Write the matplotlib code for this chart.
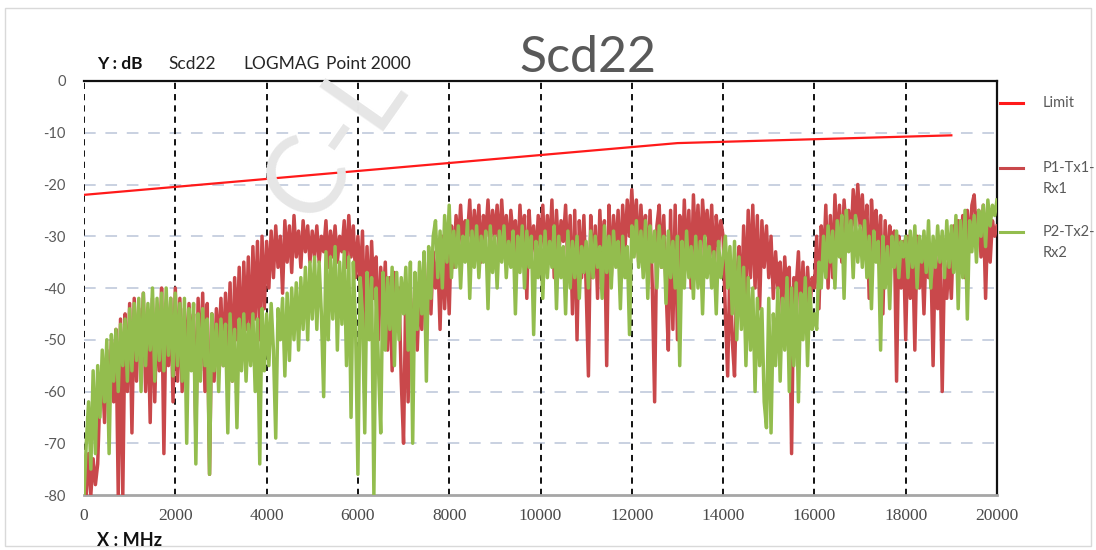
import matplotlib
matplotlib.use("Agg")
import matplotlib.pyplot as plt
from matplotlib.lines import Line2D
from matplotlib.patches import Rectangle
import numpy as np

# ---------------- data ----------------
freq_step_mhz = 50  # sample spacing of the traces below (one row = 1000 MHz)

p1_tx1_rx1 = [
    -75, -80, -72, -80, -73, -78, -74, -60, -56, -66, -52, -64, -50, -62, -48, -80, -46, -80, -45, -60,
    -43, -68, -42, -58, -44, -55, -41, -60, -45, -66, -42, -62, -44, -56, -40, -72, -43, -55, -42, -62,
    -40, -58, -42, -60, -44, -55, -43, -52, -45, -68, -42, -56, -41, -60, -43, -76, -45, -58, -44, -52,
    -42, -55, -41, -52, -39, -58, -38, -50, -36, -54, -35, -48, -34, -52, -32, -46, -31, -50, -30, -44,
    -31, -40, -29, -38, -28, -36, -30, -41, -27, -35, -28, -37, -26, -34, -29, -36, -27, -33, -28, -35,
    -29, -34, -28, -35, -30, -33, -27, -36, -29, -34, -28, -35, -30, -33, -27, -36, -26, -34, -28, -38,
    -30, -40, -29, -48, -32, -45, -31, -42, -34, -50, -36, -44, -35, -52, -38, -56, -37, -48, -40, -58,
    -70, -40, -62, -42, -55, -38, -52, -40, -48, -36, -50, -35, -45, -33, -40, -34, -48, -30, -44, -32,
    -45, -28, -36, -26, -32, -24, -33, -27, -30, -23, -34, -25, -31, -24, -35, -26, -30, -23, -32, -25,
    -30, -24, -33, -23, -31, -26, -34, -25, -30, -27, -36, -24, -32, -26, -42, -25, -33, -28, -35, -26,
    -32, -24, -35, -26, -33, -23, -38, -25, -34, -27, -31, -24, -36, -26, -45, -25, -50, -27, -38, -26,
    -40, -57, -26, -38, -28, -42, -25, -36, -27, -55, -24, -38, -26, -34, -25, -37, -24, -33, -23, -30,
    -21, -30, -23, -35, -24, -32, -26, -38, -25, -40, -62, -28, -24, -36, -26, -40, -52, -25, -48, -24,
    -50, -26, -38, -23, -35, -25, -40, -22, -33, -24, -36, -23, -30, -25, -34, -24, -38, -26, -32, -27,
    -30, -45, -57, -35, -50, -57, -38, -32, -44, -28, -42, -25, -38, -24, -40, -26, -44, -27, -36, -28,
    -38, -30, -42, -33, -40, -35, -45, -34, -42, -36, -72, -38, -40, -33, -46, -35, -48, -36, -44, -38,
    -40, -30, -44, -28, -36, -24, -40, -26, -38, -22, -33, -24, -35, -23, -30, -25, -32, -21, -28, -20,
    -28, -22, -32, -24, -42, -23, -30, -25, -35, -26, -45, -27, -38, -28, -33, -29, -58, -30, -40, -31,
    -50, -30, -42, -32, -52, -30, -40, -33, -45, -31, -38, -34, -55, -32, -44, -33, -60, -35, -42, -34,
    -42, -28, -36, -27, -34, -26, -38, -25, -33, -24, -22, -30, -25, -34, -24, -42, -26, -35, -27, -30,
    -28,
]

p2_tx2_rx2 = [
    -80, -70, -62, -75, -56, -72, -55, -65, -52, -62, -50, -72, -49, -58, -48, -60, -47, -55, -46, -58,
    -44, -56, -43, -54, -42, -60, -41, -55, -43, -52, -40, -58, -42, -54, -41, -56, -40, -53, -42, -57,
    -41, -55, -43, -58, -42, -70, -44, -56, -43, -74, -45, -58, -44, -55, -46, -76, -45, -56, -47, -60,
    -46, -55, -47, -68, -45, -58, -48, -67, -46, -56, -45, -58, -47, -55, -45, -60, -46, -74, -44, -56,
    -45, -55, -43, -52, -69, -44, -50, -42, -57, -41, -54, -40, -50, -39, -52, -38, -48, -36, -50, -35,
    -46, -34, -48, -35, -45, -61, -33, -50, -34, -46, -32, -52, -35, -47, -33, -55, -34, -65, -35, -48,
    -76, -38, -45, -68, -37, -50, -38, -80, -40, -55, -68, -37, -52, -38, -48, -36, -55, -37, -50, -38,
    -45, -36, -52, -35, -70, -37, -48, -35, -45, -33, -58, -32, -42, -30, -27, -38, -29, -40, -26, -35,
    -24, -38, -29, -36, -28, -40, -30, -35, -27, -42, -29, -36, -28, -38, -30, -35, -29, -44, -28, -37,
    -30, -40, -29, -35, -28, -38, -31, -36, -29, -45, -30, -37, -28, -40, -29, -36, -30, -49, -31, -38,
    -30, -42, -29, -38, -31, -36, -28, -44, -30, -38, -32, -45, -29, -40, -31, -38, -30, -42, -32, -37,
    -31, -40, -29, -38, -30, -36, -32, -42, -28, -37, -30, -40, -29, -36, -31, -44, -30, -38, -32, -49,
    -28, -34, -27, -36, -29, -38, -27, -42, -28, -35, -29, -40, -28, -36, -30, -43, -29, -38, -31, -40,
    -30, -55, -31, -40, -29, -38, -32, -42, -30, -40, -31, -45, -30, -38, -32, -40, -33, -45, -31, -38,
    -34, -30, -40, -32, -45, -31, -50, -34, -48, -36, -55, -38, -52, -40, -60, -42, -55, -44, -62, -67,
    -42, -68, -45, -55, -40, -58, -42, -52, -38, -60, -40, -55, -39, -62, -41, -50, -38, -55, -40, -48,
    -45, -48, -35, -40, -30, -38, -28, -35, -29, -40, -27, -34, -26, -42, -25, -33, -27, -38, -26, -35,
    -28, -36, -27, -38, -30, -44, -29, -35, -31, -52, -30, -40, -32, -44, -30, -36, -29, -38, -31, -34,
    -30, -38, -29, -36, -28, -40, -30, -35, -29, -37, -27, -40, -30, -36, -28, -35, -29, -38, -27, -36,
    -28, -37, -26, -44, -27, -38, -25, -46, -27, -33, -26, -35, -25, -30, -24, -32, -23, -28, -24, -26,
    -23,
]

limit_freq = [0, 13000, 19000]
limit_db = [-22, -12, -10.5]

x_ticks = [0, 2000, 4000, 6000, 8000, 10000, 12000, 14000, 16000, 18000, 20000]
y_ticks = [0, -10, -20, -30, -40, -50, -60, -70, -80]
series_names = ["Limit", "P1-Tx1-\nRx1", "P2-Tx2-\nRx2"]

# ---------------- styling ----------------
W, H = 1096, 550
c_limit = "#ff1a1a"
c_p1 = "#c9484b"
c_p2 = "#93bd4e"
c_text = "#595959"

fig = plt.figure(figsize=(W / 100, H / 100), dpi=100)


def fx(px):
    return px / W


def fy(py):
    return 1 - py / H


ax = fig.add_axes([fx(84), fy(495), fx(997) - fx(84), fy(81) - fy(495)])

freq = np.arange(len(p1_tx1_rx1)) * freq_step_mhz

# gridlines
for yv in y_ticks[1:-1]:
    ax.axhline(yv, color="#c9d1e1", lw=1.4, ls=(0, (6, 5)), zorder=1)
for xv in x_ticks[:-1]:
    ax.axvline(xv, color="#111111", lw=1.4, ls=(0, (3.2, 2.6)), zorder=1)

ax.plot(freq, p1_tx1_rx1, color=c_p1, lw=2.5, zorder=3)
ax.plot(freq, p2_tx2_rx2, color=c_p2, lw=2.5, zorder=4)
ax.plot(limit_freq, limit_db, color=c_limit, lw=1.6, zorder=5)

ax.set_xlim(0, 20000)
ax.set_ylim(-80, 0)
ax.set_xticks(x_ticks)
ax.set_yticks(y_ticks)
ax.set_xticklabels([str(v) for v in x_ticks], fontfamily="Liberation Serif",
                   fontsize=12.5, color="#4a4a4a")
ax.set_yticklabels([str(v) for v in y_ticks], fontfamily="Lato",
                   fontsize=10.5, color=c_text)
ax.tick_params(axis="both", length=0)
ax.tick_params(axis="y", pad=13)
ax.tick_params(axis="x", pad=9)

for side in ("top", "right"):
    ax.spines[side].set_color("#111111")
    ax.spines[side].set_linewidth(1.6)
ax.spines["left"].set_visible(False)
ax.spines["bottom"].set_color("#a6a6a6")
ax.spines["bottom"].set_linewidth(2.0)

# outer chart border
fig.add_artist(Rectangle((fx(5), fy(546)), fx(1091) - fx(5), fy(8) - fy(546),
                         transform=fig.transFigure, fill=False,
                         edgecolor="#d9d9d9", lw=1.0))

# title & header texts
hdr = 12.5
fig.text(fx(588), fy(58), "Scd22", fontfamily="Lato", fontsize=36,
         color=c_text, ha="center", va="center")
fig.text(fx(97), fy(64), "Y : dB", fontfamily="Lato", fontsize=hdr,
         fontweight="bold", color="#111111", ha="left", va="center")
fig.text(fx(168), fy(64), "Scd22", fontfamily="Lato", fontsize=hdr,
         color="#262626", ha="left", va="center")
fig.text(fx(243), fy(64), "LOGMAG", fontfamily="Lato", fontsize=hdr,
         color="#262626", ha="left", va="center")
fig.text(fx(326), fy(64), "Point 2000", fontfamily="Lato", fontsize=hdr,
         color="#262626", ha="left", va="center")
fig.text(fx(97), fy(541), "X : MHz", fontfamily="Lato", fontsize=13,
         fontweight="bold", color="#111111", ha="left", va="center")

# legend (manual, right side)
legend_y = [103, 168, 232]
legend_colors = [c_limit, c_p1, c_p2]
for name, yy, col in zip(series_names, legend_y, legend_colors):
    fig.add_artist(Line2D([fx(1000), fx(1023)], [fy(yy), fy(yy)],
                          color=col, lw=2.2, transform=fig.transFigure))
    for k, ln in enumerate(name.split("\n")):
        fig.text(fx(1043), fy(yy + 21 * k), ln, fontfamily="Lato",
                 fontsize=10.5, color=c_text, ha="left", va="center")

# faint watermark
fig.text(fx(335), fy(140), "C-L", fontfamily="Lato", fontsize=78,
         color="#e6e6e6", rotation=55, ha="center", va="center", zorder=6)

fig.savefig("out.png", dpi=100)
